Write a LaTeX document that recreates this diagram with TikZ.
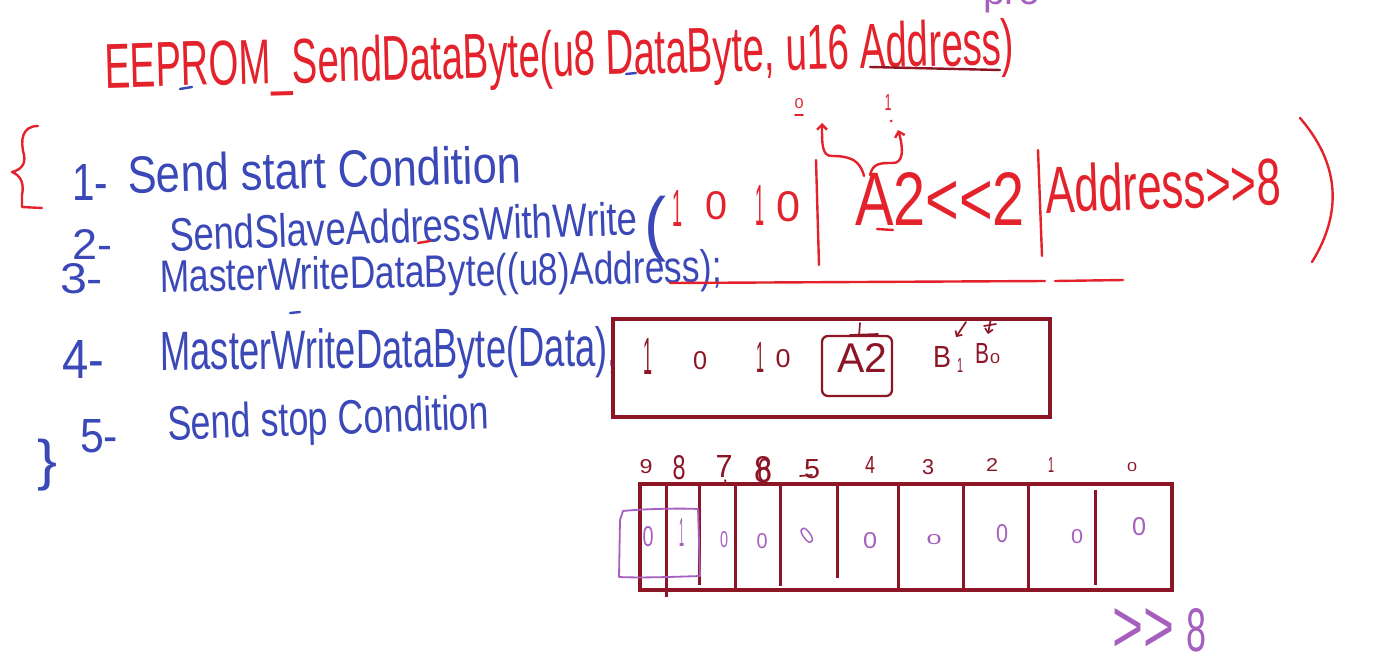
\documentclass[tikz,border=0pt]{standalone}
\usepackage{fontspec}
\setmainfont{Liberation Sans}
\usepackage{graphicx}
\usetikzlibrary{arrows.meta}
\definecolor{hred}{HTML}{E3222C}
\definecolor{hblue}{HTML}{3A48B8}
\definecolor{hdred}{HTML}{8C1526}
\definecolor{hpurp}{HTML}{A65FBE}
\newcommand\hw[3]{\resizebox{#1pt}{#2pt}{#3}}
\newcommand\hwt[3]{\resizebox*{#1pt}{#2pt}{#3}}
\begin{document}
\begin{tikzpicture}[x=1pt,y=-1pt,
  hw/.style={inner sep=0pt, outer sep=0pt, anchor=base west},
  hc/.style={inner sep=0pt, outer sep=0pt, anchor=center},
  pen/.style={line width=2.4pt, line cap=round, line join=round},
  thinpen/.style={line width=1.7pt, line cap=round, line join=round},
  barb/.style={-{Straight Barb[length=5pt,width=10pt]}},
  framebox/.style={draw=hdred, line width=3.5pt, inner sep=0pt, fill=none}
]
\useasboundingbox (0,0) rectangle (1378,670);
\clip (0,0) rectangle (1378,670);
\fill[white] (0,0) rectangle (1378,670);

% ---------- title ----------
\node[hw, text=hred, rotate=1.5] (title) at (105,88)
  {\hw{910}{46}{EEPROM\_SendDataByte(u8 DataByte, u16 Address)}};
\draw[pen, hdred] (870,67) -- (1000,70);
\draw[pen, hblue] (180,89) -- (192,87);
\draw[pen, hblue] (626,74) -- (636,73);
\node[hw, text=hpurp] (pro) at (983,4) {\hw{57}{22}{pro}};

% ---------- braces ----------
\draw[pen, hred] (38,126) .. controls (22,126) and (20,140) .. (24,155)
  .. controls (26,165) and (20,170) .. (12,172)
  .. controls (22,176) and (24,185) .. (22,195) -- (22,207) -- (42,208);
\node[hc, text=hblue] (closebrace) at (47,465) {\hwt{20}{52}{\}}};

% ---------- numbered steps ----------
\node[hw, text=hblue] (n1) at (72,200) {\hw{36}{36}{1-}};
\node[hw, text=hblue] (n2) at (72,259) {\hw{40}{30}{2-}};
\node[hw, text=hblue] (n3) at (60,293) {\hw{43}{30}{3-}};
\node[hw, text=hblue] (n4) at (62,378) {\hw{42}{38}{4-}};
\node[hw, text=hblue] (n5) at (80,452) {\hw{38}{33}{5-}};

\node[hw, text=hblue, rotate=1.5] (s1) at (128,193) {\hw{394}{38}{Send start Condition}};
\node[hw, text=hblue, rotate=2] (s2) at (170,251) {\hw{468}{34}{SendSlaveAddressWithWrite}};
\node[hc, text=hblue] (s2p) at (655,229) {\hwt{22}{66}{(}};
\node[hw, text=hblue, rotate=1] (s3) at (160,292) {\hw{562}{33}{MasterWriteDataByte((u8)Address);}};
\node[hw, text=hblue, rotate=0.5] (s4) at (160,370) {\hw{458}{40}{MasterWriteDataByte(Data),}};
\node[hw, text=hblue, rotate=2] (s5) at (168,440) {\hw{322}{35}{Send stop Condition}};
\draw[pen, hred] (418,243) -- (430,241);
\draw[pen, hblue] (290,313) -- (300,312);

% ---------- red expression ----------
\node[hc, text=hred] (e1) at (677,208) {\hw{10}{36}{1}};
\node[hc, text=hred] (e2) at (716,206) {\hw{22}{28}{0}};
\node[hc, text=hred] (e3) at (760,205) {\hw{9}{40}{1}};
\node[hc, text=hred] (e4) at (788,207) {\hw{24}{30}{0}};
\coordinate (bar1t) at (816,160); \coordinate (bar1b) at (819,265);
\draw[pen, hred] (bar1t) -- (bar1b);
\node[hw, text=hred] (ea2) at (855,225) {\hw{170}{53}{A2<\kern0pt<\kern0pt2}};
\coordinate (bar2t) at (1038,150); \coordinate (bar2b) at (1042,256);
\draw[pen, hred] (bar2t) -- (bar2b);
\node[hw, text=hred, rotate=2] (eaddr) at (1046,213) {\hw{236}{48}{Address>\kern0pt>\kern0pt8}};
\draw[pen, hred] (1300,118) .. controls (1345,170) and (1338,220) .. (1312,262);
\draw[pen, hred] (877,229) -- (893,230);
\node[hc, text=hred] (zero) at (799,104) {\hw{9}{10}{0}};
\draw[thinpen, hred] (795,115) -- (803,115);
\node[hc, text=hred] (one) at (888,102) {\hw{7}{16}{1}};
\fill[hred] (891,121) circle (1.5);
\draw[pen, hred, barb] (864,176) .. controls (860,160) and (850,156) .. (832,156)
  .. controls (822,156) and (822,145) .. (822,123);
\draw[pen, hred, barb] (870,175) .. controls (873,163) and (880,163) .. (893,163)
  .. controls (903,163) and (904,150) .. (898,130);
\coordinate (ul1a) at (670,283); \coordinate (ul1b) at (1045,281);
\coordinate (ul2a) at (1055,281); \coordinate (ul2b) at (1123,280);
\draw[pen, hred] (ul1a) -- (ul1b);
\draw[pen, hred] (ul2a) -- (ul2b);

% ---------- address byte box ----------
\node[framebox, minimum width=437pt, minimum height=98pt] (abox) at (831.5,368) {};
\node[hc, text=hdred] (b1) at (648,356) {\hw{9}{36}{1}};
\node[hc, text=hdred] (b2) at (700,361) {\hw{14}{18}{0}};
\node[hc, text=hdred] (b3) at (760,357) {\hw{8}{30}{1}};
\node[hc, text=hdred] (b4) at (783,359) {\hw{15}{18}{0}};
\node[draw=hdred, line width=2.3pt, rounded corners=6pt, inner sep=0pt,
      minimum width=70pt, minimum height=60pt] (a2box) at (857,366) {};
\node[hw, text=hdred] (a2) at (837,372) {\hw{50}{29}{A2}};
\draw[thinpen, hdred] (860,323) -- (859,336);
\draw[thinpen, hdred] (850,335) -- (878,334);
\node[hw, text=hdred] (bB1) at (933,367) {\hw{18}{21}{B}};
\node[hw, text=hdred] (bB1s) at (957,372) {\hw{6}{14}{1}};
\node[hw, text=hdred] (bB0) at (975,363) {\hw{14}{20}{B}};
\node[hw, text=hdred] (bB0s) at (990,363) {\hw{10}{10}{0}};
\draw[thinpen, hdred, -{Straight Barb[length=4pt,width=8pt]}] (966,322) -- (956,337);
\draw[thinpen, hdred, -{Straight Barb[length=4pt,width=8pt]}] (991,318) -- (988,334);
\draw[thinpen, hdred] (984,326) -- (996,324);

% ---------- register ----------
\node[framebox, minimum width=532pt, minimum height=106pt] (reg) at (906,537) {};
\draw[hdred, line width=3pt] (666,486) -- (666,597);
\draw[hdred, line width=3pt] (699,486) -- (699,585);
\draw[hdred, line width=3pt] (735,484) -- (735,590);
\draw[hdred, line width=3pt] (780,486) -- (780,586);
\draw[hdred, line width=3pt] (837,486) -- (837,578);
\draw[hdred, line width=3pt] (898,486) -- (898,588);
\draw[hdred, line width=3pt] (963,486) -- (963,590);
\draw[hdred, line width=3pt] (1028,486) -- (1028,590);
\draw[hdred, line width=3pt] (1095,490) -- (1095,585);

% bit labels
\node[hc, text=hdred] (l9) at (646,467) {\hw{13}{14}{9}};
\node[hc, text=hdred] (l8) at (679,468) {\hw{13}{24}{8}};
\node[hc, text=hdred] (l7) at (724,466) {\hw{17}{22}{7}};
\draw[thinpen, hdred] (725,480) -- (726,484);
\node[hc, text=hdred] (l6b) at (763,470) {\hw{18}{26}{8}};
\node[hc, text=hdred] (l6) at (764,471) {\hw{14}{24}{6}};
\node[hc, text=hdred] (l5) at (812,469) {\hw{16}{19}{5}};
\draw[thinpen, hdred] (800,476) -- (812,475);
\node[hc, text=hdred] (l4) at (870,465) {\hw{10}{17}{4}};
\node[hc, text=hdred] (l3) at (928,467) {\hw{12}{15}{3}};
\node[hc, text=hdred] (l2) at (992,465) {\hw{12}{13}{2}};
\node[hc, text=hdred] (l1) at (1051,465) {\hw{6}{15}{1}};
\node[hc, text=hdred] (l0) at (1132,467) {\hw{10}{9}{0}};

% cell contents
\node[hc, text=hpurp] (c9) at (648,537) {\hw{11}{20}{0}};
\node[hc, text=hpurp] (c8) at (682,532) {\hw{5}{28}{1}};
\node[hc, text=hpurp] (c7) at (724,540) {\hw{8}{16}{0}};
\node[hc, text=hpurp] (c6) at (762,541) {\hw{11}{15}{0}};
\node[hc, text=hpurp, rotate=35] (c5) at (807,536) {\hw{10}{17}{0}};
\node[hc, text=hpurp] (c4) at (870,541) {\hw{14}{16}{0}};
\node[hc, text=hpurp] (c3) at (934,540) {\hw{15}{10}{0}};
\node[hc, text=hpurp] (c2) at (1002,534) {\hw{12}{18}{0}};
\node[hc, text=hpurp] (c1) at (1077,537) {\hw{12}{14}{0}};
\node[hc, text=hpurp] (c0) at (1139,527) {\hw{14}{18}{0}};
\draw[hpurp, line width=1.8pt, line join=round]
  (623,511) .. controls (640,509) and (680,508) .. (698,509)
  -- (700,576) .. controls (670,577) and (640,578) .. (619,577)
  -- (620,520) -- cycle;

% >>8
\node[hw, text=hpurp] (shr) at (1112,652) {\hw{62}{44}{>\kern0pt>}};
\node[hw, text=hpurp] (shr8) at (1186,651) {\hw{20}{43}{8}};
\end{tikzpicture}
\end{document}
